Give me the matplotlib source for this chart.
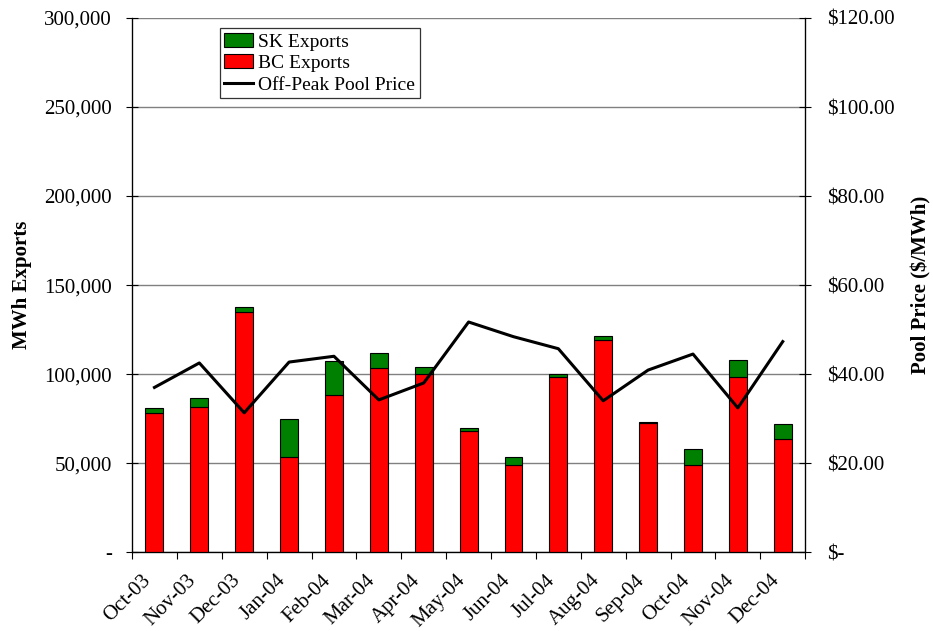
import matplotlib
matplotlib.use("Agg")
import matplotlib.pyplot as plt
import matplotlib.transforms as mtransforms
import numpy as np
from matplotlib.ticker import FuncFormatter, FixedLocator

months = ["Oct-03", "Nov-03", "Dec-03", "Jan-04", "Feb-04", "Mar-04", "Apr-04", "May-04",
          "Jun-04", "Jul-04", "Aug-04", "Sep-04", "Oct-04", "Nov-04", "Dec-04"]
bc_exports = [78000, 81600, 135000, 53200, 88400, 103200, 99800, 68000,
              48900, 98500, 118900, 72500, 49000, 98500, 63600]
sk_exports = [3200, 4700, 2600, 21300, 18900, 8600, 3900, 1500,
              4300, 1300, 2300, 700, 8800, 9500, 8100]
pool_price = [37.0, 42.5, 31.3, 42.7, 44.0, 34.2, 38.0, 51.7,
              48.4, 45.7, 34.0, 40.9, 44.5, 32.4, 47.3]

plt.rcParams['font.family'] = ['Liberation Serif', 'DejaVu Serif']
FS = 15
fig = plt.figure(figsize=(9.33, 6.31), dpi=100)
ax = fig.add_axes([0.1415, 0.125, 0.7215, 0.8465])
x = np.arange(len(months))

ax.bar(x, bc_exports, width=0.4, color='#ff0000', edgecolor='black', linewidth=0.8,
       label='BC Exports', zorder=3)
ax.bar(x, sk_exports, width=0.4, bottom=bc_exports, color='#008000', edgecolor='black',
       linewidth=0.8, label='SK Exports', zorder=3)

ax.set_xlim(-0.5, len(months) - 0.5)
ax.set_ylim(0, 300000)
ax.set_yticks(np.arange(0, 300001, 50000))
ax.yaxis.set_major_formatter(FuncFormatter(lambda v, p: '-' if v == 0 else f"{int(v):,}"))
ax.grid(axis='y', color='#808080', linewidth=1.0, zorder=0)
ax.set_axisbelow(True)
ax.set_ylabel('MWh Exports', fontsize=FS, fontweight='bold', labelpad=9)

ax.set_xticks(x)
ax.set_xticklabels(months, rotation=45, ha='right', rotation_mode='anchor', fontsize=FS)
ax.tick_params(axis='x', which='major', length=0, pad=13.5)
offset = mtransforms.ScaledTranslation(-13 / 100, 0, fig.dpi_scale_trans)
for lab in ax.get_xticklabels():
    lab.set_transform(lab.get_transform() + offset)
ax.xaxis.set_minor_locator(FixedLocator(np.arange(-0.5, len(months), 1.0)))
ax.tick_params(axis='x', which='minor', length=5, direction='out', width=0.8)
ax.tick_params(axis='y', labelsize=FS, length=9, direction='inout', width=0.8, pad=10)
ax.spines['top'].set_visible(False)
for s in ['left', 'bottom', 'right']:
    ax.spines[s].set_linewidth(0.9)

ax2 = ax.twinx()
ax2.plot(x, pool_price, color='black', linewidth=2.2, label='Off-Peak Pool Price', zorder=4)
ax2.set_ylim(0, 120)
ax2.set_yticks(np.arange(0, 121, 20))
ax2.yaxis.set_major_formatter(FuncFormatter(lambda v, p: '$-' if v == 0 else f"${v:.2f}"))
ax2.tick_params(axis='y', labelsize=FS, length=9, direction='inout', width=0.8, pad=11)
ax2.set_ylabel('Pool Price ($/MWh)', fontsize=FS, fontweight='bold', labelpad=12)
ax2.spines['top'].set_visible(False)
ax2.set_xlim(-0.5, len(months) - 0.5)

h1, l1 = ax.get_legend_handles_labels()
h2, l2 = ax2.get_legend_handles_labels()
handles = [h1[1], h1[0], h2[0]]
labels = [l1[1], l1[0], l2[0]]
leg = ax.legend(handles, labels, loc='upper left', bbox_to_anchor=(0.130, 0.981),
                fontsize=14, frameon=True, fancybox=False, edgecolor='black',
                borderpad=0.25, labelspacing=0.2, handlelength=1.45, handletextpad=0.3,
                borderaxespad=0)
leg.get_frame().set_linewidth(0.9)
leg.set_zorder(10)

fig.savefig('out.png', dpi=100)
